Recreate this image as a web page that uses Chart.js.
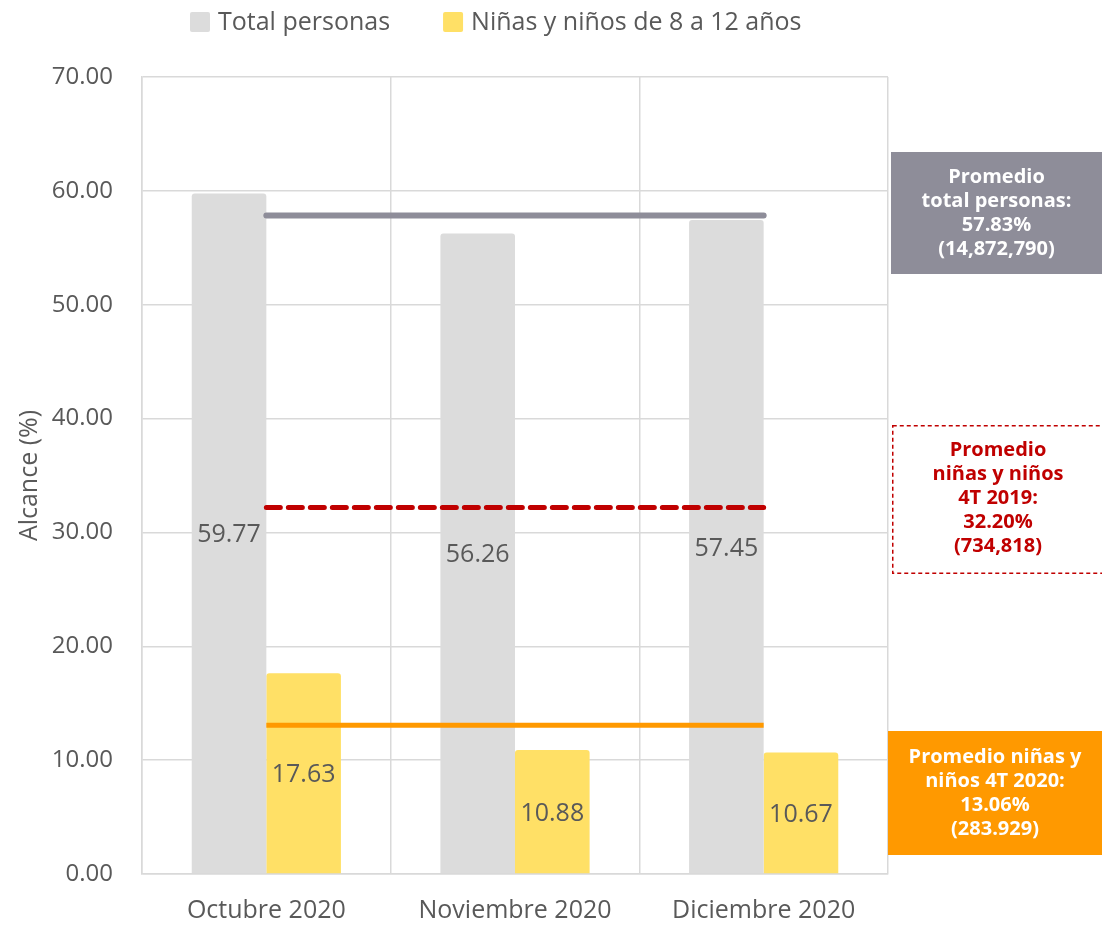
<!DOCTYPE html>
<html>
<head>
<meta charset="utf-8">
<script src="https://cdn.jsdelivr.net/npm/chart.js@4.4.1/dist/chart.umd.min.js"></script>
<style>
  html, body { margin: 0; padding: 0; background: #ffffff; }
  #wrap { width: 1102px; height: 925px; position: relative; }
</style>
</head>
<body>
<div id="wrap"><canvas id="c" width="1102" height="925"></canvas></div>
<script>
const categories = ['Octubre 2020', 'Noviembre 2020', 'Diciembre 2020'];
const seriesNames = ['Total personas', 'Niñas y niños de 8 a 12 años'];
const totalPersonas = [59.77, 56.26, 57.45];
const ninosValues = [17.63, 10.88, 10.67];
const avgTotal = [57.83, 57.83, 57.83];
const avgNinos2019 = [32.20, 32.20, 32.20];
const avgNinos2020 = [13.06, 13.06, 13.06];
const yTicks = { min: 0, max: 70, step: 10 };
const boxTotal = ['Promedio', 'total personas:', '57.83%', '(14,872,790)'];
const box2019 = ['Promedio', 'niñas y niños', '4T 2019:', '32.20%', '(734,818)'];
const box2020 = ['Promedio niñas y', 'niños 4T 2020:', '13.06%', '(283.929)'];

const FONT = "'Open Sans', 'Noto Sans', sans-serif";
const TXT = '#595959';

const barLabels = {
  id: 'barLabels',
  afterDatasetsDraw(chart) {
    const ctx = chart.ctx;
    ctx.save();
    ctx.font = '25px ' + FONT;
    ctx.fillStyle = TXT;
    ctx.textAlign = 'center';
    ctx.textBaseline = 'middle';
    chart.data.datasets.forEach((ds, i) => {
      if (ds.type !== 'bar') return;
      const meta = chart.getDatasetMeta(i);
      meta.data.forEach((el, j) => {
        const v = ds.data[j];
        ctx.fillText(v.toFixed(2), el.x, (el.y + el.base) / 2 + 2);
      });
    });
    ctx.restore();
  }
};

const customLegend = {
  id: 'customLegend',
  afterDraw(chart) {
    const ctx = chart.ctx;
    ctx.save();
    ctx.font = '25px ' + FONT;
    ctx.textBaseline = 'middle';
    ctx.textAlign = 'left';
    let x = 190;
    const y = 22;
    chart.data.datasets.forEach((ds) => {
      if (ds.type !== 'bar') return;
      ctx.fillStyle = ds.backgroundColor;
      ctx.beginPath();
      ctx.roundRect(x, y - 10, 20, 20, 2);
      ctx.fill();
      ctx.fillStyle = TXT;
      ctx.fillText(ds.label, x + 28, y + 1);
      x += 28 + ctx.measureText(ds.label).width + 53;
    });
    ctx.restore();
  }
};

const sideBoxes = {
  id: 'sideBoxes',
  afterDraw(chart) {
    const ctx = chart.ctx;
    const a = chart.chartArea;
    const W = chart.width;
    ctx.save();
    function drawBox(x0, y0, x1, y1, fill, stroke, color, lines, cy) {
      if (fill) { ctx.fillStyle = fill; ctx.fillRect(x0, y0, x1 - x0, y1 - y0); }
      if (stroke) {
        ctx.strokeStyle = stroke; ctx.lineWidth = 1.5; ctx.setLineDash([4, 3]);
        ctx.strokeRect(x0 + 0.75, y0 + 0.75, x1 - x0 - 1.5, y1 - y0 - 1.5);
        ctx.setLineDash([]);
      }
      ctx.fillStyle = color;
      ctx.font = 'bold 20px ' + FONT;
      ctx.textAlign = 'center';
      ctx.textBaseline = 'middle';
      const lh = 24;
      const cx = (x0 + x1) / 2;
      const start = cy - (lines.length - 1) * lh / 2;
      lines.forEach((t, k) => ctx.fillText(t, cx, start + k * lh));
    }
    drawBox(a.right + 3, 152, W, 274, '#8E8D99', null, '#ffffff', boxTotal, 213);
    drawBox(a.right + 4, 425, W + 2, 574, null, '#C00000', '#C00000', box2019, 498);
    drawBox(a.right, 731, W, 855, '#FF9900', null, '#ffffff', box2020, 793);
    ctx.restore();
  }
};

new Chart(document.getElementById('c'), {
  data: {
    labels: categories,
    datasets: [
      { type: 'bar', label: seriesNames[0], data: totalPersonas, backgroundColor: '#DCDCDC',
        borderRadius: 3, borderSkipped: 'bottom', categoryPercentage: 0.6, barPercentage: 1.0, order: 2 },
      { type: 'bar', label: seriesNames[1], data: ninosValues, backgroundColor: '#FFE066',
        borderRadius: 3, borderSkipped: 'bottom', categoryPercentage: 0.6, barPercentage: 1.0, order: 2 },
      { type: 'line', label: 'avgTotal', data: avgTotal, borderColor: '#8E8D99', borderWidth: 6,
        borderCapStyle: 'round', pointRadius: 0, fill: false, order: 1 },
      { type: 'line', label: 'avg2019', data: avgNinos2019, borderColor: '#C00000', borderWidth: 5,
        borderDash: [14, 8], borderCapStyle: 'round', pointRadius: 0, fill: false, order: 1 },
      { type: 'line', label: 'avg2020', data: avgNinos2020, borderColor: '#FF9900', borderWidth: 5,
        borderCapStyle: 'butt', pointRadius: 0, fill: false, order: 1 }
    ]
  },
  options: {
    responsive: false,
    animation: false,
    devicePixelRatio: 1,
    layout: { padding: { left: 15, right: 214, top: 77, bottom: -23 } },
    plugins: {
      tooltip: { enabled: false },
      legend: { display: false }
    },
    scales: {
      x: {
        offset: true,
        grid: { color: '#D9D9D9', lineWidth: 1.5, offset: true, drawTicks: false },
        border: { color: '#D9D9D9', width: 1.5 },
        ticks: { font: { family: FONT, size: 25 }, color: TXT, padding: 22 }
      },
      y: {
        min: yTicks.min, max: yTicks.max,
        afterFit: (axis) => { axis.width = 127; },
        grid: { color: '#D9D9D9', lineWidth: 1.5, drawTicks: false },
        border: { color: '#D9D9D9', width: 1.5 },
        ticks: { stepSize: yTicks.step, font: { family: FONT, size: 24 }, color: TXT, padding: 29,
          callback: (v) => Number(v).toFixed(2) },
        title: { display: true, text: 'Alcance (%)', font: { family: FONT, size: 25 }, color: TXT, padding: 0 }
      }
    }
  },
  plugins: [barLabels, customLegend, sideBoxes]
});
</script>
</body>
</html>
